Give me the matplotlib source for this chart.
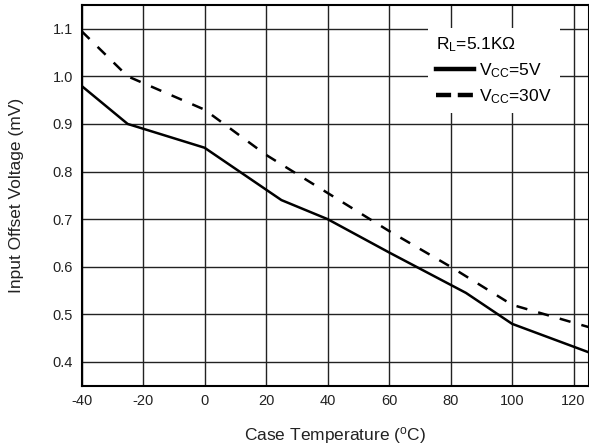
import matplotlib
matplotlib.use("Agg")
import matplotlib.pyplot as plt
from matplotlib.lines import Line2D

plt.rcParams['font.family'] = ['Liberation Sans', 'DejaVu Sans']
plt.rcParams['mathtext.fontset'] = 'custom'
plt.rcParams['mathtext.rm'] = 'Liberation Sans'
plt.rcParams['mathtext.it'] = 'Liberation Sans:italic'
plt.rcParams['axes.unicode_minus'] = False

# Input offset voltage vs case temperature
temp_5v = [-40, -25, 0, 25, 40, 60, 85, 100, 125]
vos_5v = [0.98, 0.90, 0.85, 0.74, 0.70, 0.63, 0.545, 0.48, 0.42]

temp_30v = [-40, -25, 0, 20, 40, 60, 80, 100, 125]
vos_30v = [1.095, 1.00, 0.93, 0.835, 0.755, 0.675, 0.60, 0.52, 0.473]

x_ticks = [-40, -20, 0, 20, 40, 60, 80, 100, 120]
y_ticks = [0.4, 0.5, 0.6, 0.7, 0.8, 0.9, 1.0, 1.1]

fig = plt.figure(figsize=(5.89, 4.48), dpi=100)
ax = fig.add_axes([0.1384, 0.139, 0.8616, 0.85])

ax.plot(temp_5v, vos_5v, color='black', lw=1.8, solid_joinstyle='miter')
ax.plot(temp_30v, vos_30v, color='black', lw=1.8, linestyle=(0, (4.5, 4.5)))

ax.set_xlim(-40, 125)
ax.set_ylim(0.35, 1.15)
ax.set_xticks(x_ticks)
ax.set_yticks(y_ticks)
ax.set_yticklabels([f"{v:.1f}" for v in y_ticks])
ax.tick_params(length=0, labelsize=10.5, pad=6, colors='#222222')
ax.grid(True, color='#222222', lw=1.0)
ax.set_axisbelow(True)
for s in ax.spines.values():
    s.set_linewidth(1.5)
    s.set_color('black')

ax.set_xlabel("Case Temperature ($^\\mathrm{o}$C)", fontsize=12.5, labelpad=12, color='#222222')
ax.set_ylabel("Input Offset Voltage (mV)", fontsize=12.5, labelpad=21, color='#222222')

handles = [Line2D([], [], color='black', lw=3.2),
           Line2D([], [], color='black', lw=3.2, linestyle=(0, (3.4, 1.5)))]
leg = ax.legend(handles, ["V$_\\mathrm{CC}$=5V", "V$_\\mathrm{CC}$=30V"],
                title="R$_\\mathrm{L}$=5.1K\u03a9", title_fontsize=12.5, fontsize=12.5,
                loc='upper left', bbox_to_anchor=(0.683, 0.94), borderaxespad=0,
                frameon=True, fancybox=False, edgecolor='none', facecolor='white',
                framealpha=1, handlelength=2.2, handletextpad=0.3,
                labelspacing=0.4, borderpad=0.45, alignment='left')

fig.savefig("out.png", dpi=100)
